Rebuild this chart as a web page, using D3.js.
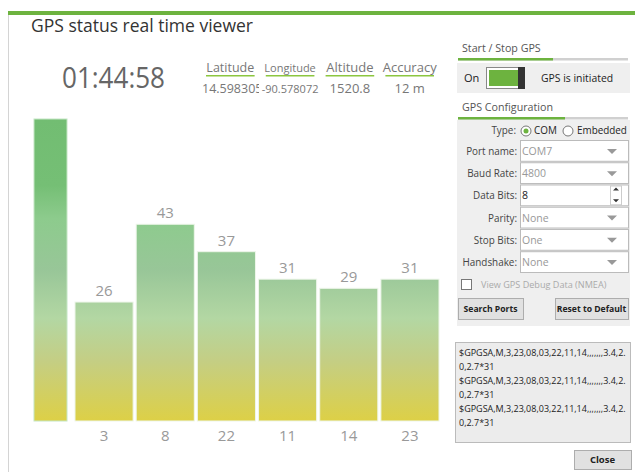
<!DOCTYPE html>
<html>
<head>
<meta charset="utf-8">
<script src="https://cdn.jsdelivr.net/npm/d3@7"></script>
<style>
  body { margin: 0; background: #fff; }
  svg text { font-family: "Open Sans", "Noto Sans", sans-serif; }
</style>
</head>
<body>
<div class="chart"></div>
<script>
// satellites (PRN) and their signal strength
const prns = ['3', '8', '22', '11', '14', '23']
const snr = [26, 43, 37, 31, 29, 31]
const scaleMax = 66

const infoLabels = ['Latitude', 'Longitude', 'Altitude', 'Accuracy']
const infoValues = ['14.598305', '-90.578072', '1520.8', '12 m']

const configLabels = ['Port name:', 'Baud Rate:', 'Data Bits:', 'Parity:', 'Stop Bits:', 'Handshake:']
const configValues = ['COM7', '4800', '8', 'None', 'One', 'None']
const nmeaLines = ['$GPGSA,M,3,23,08,03,22,11,14,,,,,,,3.4,2.', '0,2.7*31',
  '$GPGSA,M,3,23,08,03,22,11,14,,,,,,,3.4,2.', '0,2.7*31',
  '$GPGSA,M,3,23,08,03,22,11,14,,,,,,,3.4,2.', '0,2.7*31']

const width = 635
const height = 472
const green = '#6db33f'

const svg = d3.select('.chart')
  .append('svg')
    .attr('width', width)
    .attr('height', height)

// window frame
svg.append('rect').attr('x', 8).attr('y', 11).attr('width', width - 8).attr('height', 4).attr('fill', green)
svg.append('rect').attr('x', 8).attr('y', 15).attr('width', 1).attr('height', height - 15).attr('fill', '#d4d4d4')

svg.append('text').attr('x', 31).attr('y', 32)
  .style('font-size', '17.5px').style('fill', '#333')
  .text('GPS status real time viewer')

svg.append('text').attr('x', 62).attr('y', 88)
  .attr('textLength', 103).attr('lengthAdjust', 'spacingAndGlyphs')
  .style('font-size', '30px').style('fill', '#666')
  .text('01:44:58')

// position info
const infoX = d3.scaleBand().domain(infoLabels).range([204, 436]).paddingInner(0.12)
const infoSize = ['12.5px', '11px', '13px', '13px']
const valueSize = ['12.5px', '11px', '13px', '13px']
svg.append('clipPath').attr('id', 'latClip')
  .append('rect').attr('x', 195).attr('y', 78).attr('width', 64).attr('height', 20)
const info = svg.selectAll('.info').data(infoLabels).enter()
  .append('g').attr('class', 'info')
  .attr('transform', d => `translate(${infoX(d)}, 0)`)
info.append('text')
  .attr('x', infoX.bandwidth() / 2).attr('y', 72)
  .style('text-anchor', 'middle').style('fill', '#777')
  .style('font-size', (d, i) => infoSize[i])
  .text(d => d)
info.append('rect').attr('x', 2).attr('y', 75).attr('width', infoX.bandwidth() - 4).attr('height', 1.5).attr('fill', '#8cc63f')
svg.append('text')
  .attr('x', 202).attr('y', 93)
  .attr('clip-path', 'url(#latClip)')
  .style('fill', '#777').style('font-size', valueSize[0])
  .text(infoValues[0])
info.filter((d, i) => i > 0).append('text')
  .attr('x', infoX.bandwidth() / 2).attr('y', 93)
  .style('text-anchor', 'middle').style('fill', '#777')
  .style('font-size', (d, i) => valueSize[i + 1])
  .text((d, i) => infoValues[i + 1])

// bar chart
const yScale = d3.scaleLinear().domain([0, scaleMax]).range([421, 119])
const xScale = d3.scaleBand().domain(prns).range([75, 439]).paddingInner(0.05)

const defs = svg.append('defs')
const grad = defs.append('linearGradient').attr('id', 'snrGrad')
  .attr('gradientUnits', 'userSpaceOnUse')
  .attr('x1', 0).attr('y1', yScale(scaleMax)).attr('x2', 0).attr('y2', yScale(0))
const stops = [[0, '#72bd72'], [0.22, '#75bf75'], [0.33, '#8dcb8d'], [0.5, '#98c698'],
  [0.66, '#b3d7a3'], [0.8, '#c4ce84'], [1, '#ddd046']]
grad.selectAll('stop').data(stops).enter().append('stop')
  .attr('offset', d => d[0]).attr('stop-color', d => d[1])

// signal scale column
svg.append('rect')
  .attr('x', 34).attr('y', yScale(scaleMax))
  .attr('width', 33).attr('height', yScale(0) - yScale(scaleMax))
  .attr('fill', 'url(#snrGrad)')
  .attr('stroke', '#c4e6c4').attr('stroke-width', 1)

const bars = svg.selectAll('.bar').data(snr).enter()
  .append('g').attr('class', 'bar')
  .attr('transform', (d, i) => `translate(${xScale(prns[i])}, 0)`)

bars.append('rect')
  .attr('x', 0).attr('y', d => yScale(d))
  .attr('width', xScale.bandwidth()).attr('height', d => yScale(0) - yScale(d))
  .attr('fill', 'url(#snrGrad)')
  .attr('stroke', '#eef6ea').attr('stroke-width', 1)

bars.append('text')
  .attr('x', xScale.bandwidth() / 2).attr('y', d => yScale(d) - 6)
  .style('text-anchor', 'middle').style('fill', '#999').style('font-size', '15px')
  .text(d => d)

const xAxis = d3.axisBottom(xScale).tickSize(0).tickPadding(9)
svg.append('g')
  .attr('transform', `translate(0, ${yScale(0)})`)
  .call(xAxis)
  .call(g => g.select('.domain').remove())
  .call(g => g.selectAll('text').style('font-size', '15px').style('fill', '#999')
    .style('font-family', '"Open Sans", sans-serif'))

// right panel
function header(y, text, greenW) {
  svg.append('text').attr('x', 462).attr('y', y).style('font-size', '10.7px').style('fill', '#555').text(text)
  svg.append('rect').attr('x', 458).attr('y', y + 6).attr('width', 170).attr('height', 2.5).attr('fill', '#d0d0d0')
  svg.append('rect').attr('x', 458).attr('y', y + 6).attr('width', greenW).attr('height', 2.5).attr('fill', green)
}
header(52, 'Start / Stop GPS', 95)
header(111, 'GPS Configuration', 107)

svg.append('rect').attr('x', 457).attr('y', 63).attr('width', 173).attr('height', 30).attr('fill', '#efefef')
svg.append('text').attr('x', 464).attr('y', 82).style('font-size', '11px').style('fill', '#222').text('On')
svg.append('rect').attr('x', 486.5).attr('y', 67.5).attr('width', 38).attr('height', 21).attr('fill', '#fff').attr('stroke', '#888')
svg.append('rect').attr('x', 489).attr('y', 70).attr('width', 29).attr('height', 16).attr('fill', green)
svg.append('rect').attr('x', 518).attr('y', 67).attr('width', 7).attr('height', 22).attr('fill', '#333')
svg.append('text').attr('x', 541).attr('y', 82).style('font-size', '10.4px').style('fill', '#222').text('GPS is initiated')

svg.append('rect').attr('x', 457).attr('y', 120).attr('width', 173).attr('height', 206).attr('fill', '#efefef')

const small = '9.9px'
svg.append('text').attr('x', 516).attr('y', 134).style('text-anchor', 'end').style('font-size', small).style('fill', '#444').text('Type:')
svg.append('circle').attr('cx', 526).attr('cy', 131).attr('r', 5).attr('fill', '#fff').attr('stroke', '#777')
svg.append('circle').attr('cx', 526).attr('cy', 131).attr('r', 2.5).attr('fill', green)
svg.append('text').attr('x', 534).attr('y', 134).style('font-size', small).style('fill', '#222').text('COM')
svg.append('circle').attr('cx', 568).attr('cy', 131).attr('r', 5).attr('fill', '#fff').attr('stroke', '#777')
svg.append('text').attr('x', 577).attr('y', 134).style('font-size', small).style('fill', '#222').text('Embedded')

const rowY = d3.scaleBand().domain(configLabels).range([140, 273]).paddingInner(0.02)
const rows = svg.selectAll('.row').data(configLabels).enter()
  .append('g').attr('class', 'row')
  .attr('transform', d => `translate(0, ${rowY(d)})`)
rows.append('rect').attr('x', 520.5).attr('y', 0.5).attr('width', 108).attr('height', rowY.bandwidth() - 1)
  .attr('fill', '#fff').attr('stroke', '#bbb')
rows.append('text').attr('x', 517).attr('y', rowY.bandwidth() / 2 + 4)
  .style('text-anchor', 'end').style('font-size', small).style('fill', '#444').text(d => d)
rows.append('text').attr('x', 522).attr('y', rowY.bandwidth() / 2 + 4)
  .style('font-size', '10.5px').style('fill', (d, i) => i === 2 ? '#222' : '#999')
  .text((d, i) => configValues[i])
rows.filter((d, i) => i !== 2).append('path')
  .attr('d', `M607,${rowY.bandwidth() / 2 - 2} l10,0 l-5,5 z`).attr('fill', '#999')
rows.filter((d, i) => i === 2).append('path')
  .attr('d', `M613,6 l3,-3 l3,3 z M613,${rowY.bandwidth() - 7} l3,3 l3,-3 z`).attr('fill', '#333')
rows.filter((d, i) => i === 2).append('rect')
  .attr('x', 610.5).attr('y', 1.5).attr('width', 11).attr('height', rowY.bandwidth() - 3)
  .attr('fill', 'none').attr('stroke', '#ccc')

svg.append('rect').attr('x', 461.5).attr('y', 279.5).attr('width', 10).attr('height', 10).attr('fill', '#fff').attr('stroke', '#777')
svg.append('text').attr('x', 481).attr('y', 288).style('font-size', '9.1px').style('fill', '#aaa').text('View GPS Debug Data (NMEA)')

function button(x, y, w, h, text, size) {
  svg.append('rect').attr('x', x + 0.5).attr('y', y + 0.5).attr('width', w).attr('height', h)
    .attr('fill', '#e1e1e1').attr('stroke', '#adadad')
  svg.append('text').attr('x', x + w / 2).attr('y', y + h / 2 + 3.5)
    .style('text-anchor', 'middle').style('font-size', size).style('font-weight', 'bold').style('fill', '#222').text(text)
}
button(458, 298, 65, 21, 'Search Ports', '8.6px')
button(555, 298, 73, 21, 'Reset to Default', '8.6px')

svg.append('rect').attr('x', 455.5).attr('y', 342.5).attr('width', 175).attr('height', 100)
  .attr('fill', '#ececec').attr('stroke', '#bbb')
svg.selectAll('.nmea').data(nmeaLines).enter()
  .append('text').attr('class', 'nmea')
  .attr('x', 459).attr('y', (d, i) => 356 + i * 14)
  .style('font-size', '9px').style('fill', '#222').text(d => d)

button(574, 450, 57, 19, 'Close', '9.5px')
</script>
</body>
</html>
